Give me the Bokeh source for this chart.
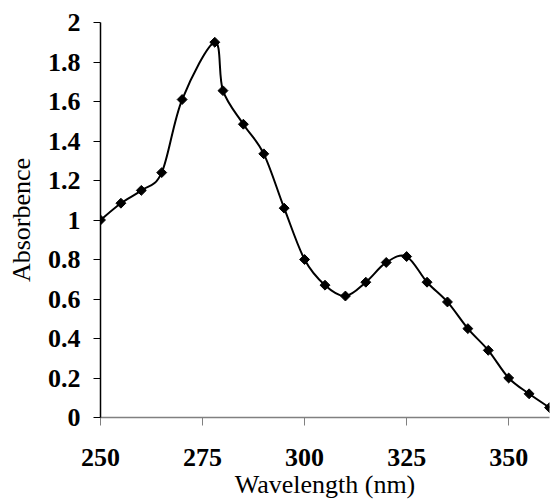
import numpy as np
from bokeh.plotting import figure
from bokeh.models import Range1d, FixedTicker, NumeralTickFormatter
from bokeh.embed import file_html
from bokeh.resources import INLINE

wavelength = [250, 255, 260, 265, 270, 278, 280, 285, 290, 295, 300, 305,
              310, 315, 320, 325, 330, 335, 340, 345, 350, 355, 360]
absorbance = [1.00, 1.085, 1.15, 1.24, 1.61, 1.90, 1.655, 1.485, 1.335, 1.06,
              0.80, 0.67, 0.615, 0.685, 0.785, 0.815, 0.685, 0.585, 0.45,
              0.34, 0.20, 0.12, 0.05]
x_ticks = [250, 275, 300, 325, 350]
y_ticks = [0, 0.2, 0.4, 0.6, 0.8, 1.0, 1.2, 1.4, 1.6, 1.8, 2.0]

SERIF = "Liberation Serif"

p = figure(width=553, height=502, output_backend="svg", toolbar_location=None,
           x_range=Range1d(250, 360), y_range=Range1d(0, 2),
           min_border_left=100, min_border_right=4, min_border_top=22,
           min_border_bottom=85)
p.outline_line_color = None
p.grid.visible = False

# smooth curve (Excel-style Catmull-Rom Bezier) through the data points
x = np.array(wavelength, dtype=float)
y = np.array(absorbance, dtype=float)
xp = np.concatenate([[x[0]], x, [x[-1]]])
yp = np.concatenate([[y[0]], y, [y[-1]]])
n = len(x)
x0, y0 = x[:-1], y[:-1]
x1, y1 = x[1:], y[1:]
cx0 = x0 + (xp[2:n + 1] - xp[0:n - 1]) / 6.0
cy0 = y0 + (yp[2:n + 1] - yp[0:n - 1]) / 6.0
cx1 = x1 - (xp[3:n + 2] - xp[1:n]) / 6.0
cy1 = y1 - (yp[3:n + 2] - yp[1:n]) / 6.0
p.bezier(x0=x0, y0=y0, x1=x1, y1=y1, cx0=cx0, cy0=cy0, cx1=cx1, cy1=cy1,
         line_color="black", line_width=2)

p.scatter(wavelength, absorbance, marker="square", angle=np.pi / 4, size=7,
          fill_color="black", line_color="black", line_width=1)

xa = p.xaxis[0]
xa.ticker = FixedTicker(ticks=x_ticks)
xa.axis_label = "Wavelength (nm)"
xa.axis_line_color = "#808080"
xa.major_tick_line_color = "#808080"
xa.minor_tick_line_color = None
xa.major_tick_in = 0
xa.major_tick_out = 8
xa.major_label_standoff = 23
xa.axis_label_standoff = 1

ya = p.yaxis[0]
ya.ticker = FixedTicker(ticks=y_ticks)
ya.formatter = NumeralTickFormatter(format="0.[0]")
ya.axis_label = "Absorbence"
ya.axis_line_color = "black"
ya.major_tick_line_color = "black"
ya.minor_tick_line_color = None
ya.major_tick_in = 0
ya.major_tick_out = 7
ya.major_label_standoff = 13
ya.axis_label_standoff = 9

for ax in (xa, ya):
    ax.major_label_text_font = SERIF
    ax.major_label_text_font_style = "bold"
    ax.major_label_text_font_size = "26px"
    ax.major_label_text_color = "black"
    ax.axis_label_text_font = SERIF
    ax.axis_label_text_font_style = "normal"
    ax.axis_label_text_font_size = "26px"
    ax.axis_label_text_color = "black"
    ax.axis_line_width = 1.5

open("out.html", "w").write(file_html(p, INLINE))
